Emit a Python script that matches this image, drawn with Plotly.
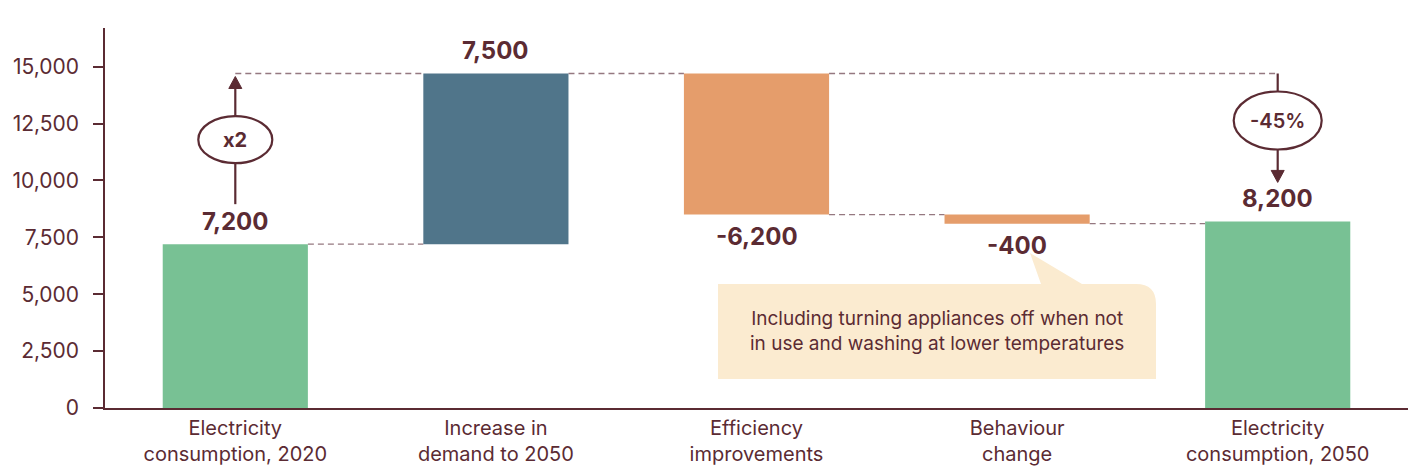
import plotly.graph_objects as go

# ---- data -------------------------------------------------------------
categories = [
    "Electricity<br>consumption, 2020",
    "Increase in<br>demand to 2050",
    "Efficiency<br>improvements",
    "Behaviour<br>change",
    "Electricity<br>consumption, 2050",
]
steps = [7200, 7500, -6200, -400, 8200]
measures = ["absolute", "relative", "relative", "relative", "absolute"]
bar_colors = ["#78c194", "#50758a", "#e59d6b", "#e59d6b", "#78c194"]
y_ticks = [0, 2500, 5000, 7500, 10000, 12500, 15000]
growth_label = "x2"
change_label = "-45%"
callout_text = "Including turning appliances off when not<br>in use and washing at lower temperatures"

# ---- styling ----------------------------------------------------------
FONT = "Inter"
INK = "#5b2b33"
DASH_COLOR = "#957880"
CALLOUT_FILL = "#fbebd0"
W, H = 1410, 470
M_L, M_R, M_T, M_B = 105, 2, 28, 62
PLOT_W = W - M_L - M_R
PLOT_H = H - M_T - M_B
Y_MAX = 16700
BAR_W = 0.557
HALF = BAR_W / 2

PX_PER_CAT = PLOT_W / len(categories)
PX_PER_UNIT = PLOT_H / Y_MAX


def ux(px):
    """pixel distance -> category units"""
    return px / PX_PER_CAT


def uy(px):
    """pixel distance -> value units"""
    return px / PX_PER_UNIT


def paper_x(px):
    return (px - M_L) / PLOT_W


def paper_y(py):
    return (M_T + PLOT_H - py) / PLOT_H


# ---- floating bar geometry from the steps ---------------------------
bases, ends = [], []
running = 0
for m, v in zip(measures, steps):
    if m == "absolute":
        bases.append(0)
        running = v
    else:
        bases.append(running)
        running += v
    ends.append(running)
peak = max(ends)

xs = list(range(len(categories)))

fig = go.Figure(
    go.Bar(
        x=xs,
        y=steps,
        base=bases,
        width=BAR_W,
        marker=dict(color=bar_colors, line=dict(width=0)),
        hoverinfo="skip",
    )
)

shapes = []
annotations = []

dash_line = dict(color=DASH_COLOR, width=1.3, dash="6px,4px")
solid = dict(color=INK, width=2.2)

# waterfall connectors between consecutive bars
for i in range(len(categories) - 1):
    shapes.append(dict(type="line", xref="x", yref="y",
                       x0=i + HALF, x1=i + 1 - HALF, y0=ends[i], y1=ends[i],
                       line=dash_line, layer="below"))
# peak level guide from the first arrow and out to the last bar
shapes.append(dict(type="line", xref="x", yref="y", x0=0, x1=1 - HALF,
                   y0=peak, y1=peak, line=dash_line, layer="below"))
shapes.append(dict(type="line", xref="x", yref="y", x0=2 + HALF, x1=4,
                   y0=peak, y1=peak, line=dash_line, layer="below"))

# value labels
for i, (v, b, e) in enumerate(zip(steps, bases, ends)):
    top = max(b, b + v)
    bottom = min(b, b + v)
    above = v > 0
    annotations.append(dict(
        x=i, y=top if above else bottom, xref="x", yref="y",
        text=f"<b>{v:,}</b>", showarrow=False,
        xanchor="center", yanchor="middle",
        yshift=23 if above else -22,
        font=dict(family=FONT, size=24, color=INK),
    ))


def arrow_head(x, tip, up=True, size_px=12, half_px=6.5):
    base = tip - uy(size_px) if up else tip + uy(size_px)
    return dict(
        type="path", xref="x", yref="y",
        path=f"M {x - ux(half_px)},{base} L {x},{tip} L {x + ux(half_px)},{base} Z",
        fillcolor=INK, line=dict(color=INK, width=1),
    )


def ellipse(x, yc, w_px, h_px):
    return dict(type="circle", xref="x", yref="y",
                x0=x - ux(w_px / 2), x1=x + ux(w_px / 2),
                y0=yc - uy(h_px / 2), y1=yc + uy(h_px / 2),
                line=dict(color=INK, width=2.2), fillcolor="white")


# growth marker above the 2020 bar
start = ends[0]
g_bottom = start + uy(40)
g_e_lo = start + uy(81)
g_e_hi = start + uy(128)
g_tip = peak - uy(3)
shapes.append(dict(type="line", xref="x", yref="y", x0=0, x1=0,
                   y0=g_bottom, y1=g_e_lo, line=solid))
shapes.append(dict(type="line", xref="x", yref="y", x0=0, x1=0,
                   y0=g_e_hi, y1=g_tip - uy(8), line=solid))
shapes.append(ellipse(0, (g_e_lo + g_e_hi) / 2, 74, 47))
shapes.append(arrow_head(0, g_tip, up=True))
annotations.append(dict(x=0, y=(g_e_lo + g_e_hi) / 2, xref="x", yref="y",
                        text=f"<b>{growth_label}</b>", showarrow=False,
                        xanchor="center", yanchor="middle",
                        font=dict(family=FONT, size=20, color=INK)))

# reduction marker above the 2050 bar
final = ends[-1]
last = len(categories) - 1
c_e_hi = peak - uy(18)
c_e_lo = peak - uy(76)
c_tip = final + uy(39)
shapes.append(dict(type="line", xref="x", yref="y", x0=last, x1=last,
                   y0=peak, y1=c_e_hi, line=solid))
shapes.append(dict(type="line", xref="x", yref="y", x0=last, x1=last,
                   y0=c_e_lo, y1=c_tip + uy(8), line=solid))
shapes.append(ellipse(last, (c_e_lo + c_e_hi) / 2, 88, 58))
shapes.append(arrow_head(last, c_tip, up=False))
annotations.append(dict(x=last, y=(c_e_lo + c_e_hi) / 2, xref="x", yref="y",
                        text=f"<span style='font-weight:600'>{change_label}</span>",
                        showarrow=False, xanchor="center", yanchor="middle",
                        font=dict(family=FONT, size=20, color=INK)))

# speech-bubble callout for behaviour change
bx0, bx1, by0, by1, r = 718, 1156, 284, 379, 20
tip_x, tip_y, p0, p1 = 1030, 253, 1041, 1082
pts = (
    f"M {paper_x(bx0)},{paper_y(by0)} "
    f"L {paper_x(p0)},{paper_y(by0)} "
    f"L {paper_x(tip_x)},{paper_y(tip_y)} "
    f"L {paper_x(p1)},{paper_y(by0)} "
    f"L {paper_x(bx1 - r)},{paper_y(by0)} "
    f"Q {paper_x(bx1)},{paper_y(by0)} {paper_x(bx1)},{paper_y(by0 + r)} "
    f"L {paper_x(bx1)},{paper_y(by1)} "
    f"L {paper_x(bx0)},{paper_y(by1)} Z"
)
shapes.append(dict(type="path", xref="paper", yref="paper", path=pts,
                   fillcolor=CALLOUT_FILL, line=dict(width=0), layer="below"))
annotations.append(dict(x=paper_x((bx0 + bx1) / 2), y=paper_y(331),
                        xref="paper", yref="paper", text=callout_text,
                        showarrow=False, align="center",
                        xanchor="center", yanchor="middle",
                        font=dict(family=FONT, size=19, color=INK)))

fig.update_layout(
    width=W, height=H,
    margin=dict(l=M_L, r=M_R, t=M_T, b=M_B, autoexpand=False),
    paper_bgcolor="white", plot_bgcolor="white",
    showlegend=False,
    shapes=shapes,
    annotations=annotations,
    font=dict(family=FONT, color=INK),
    xaxis=dict(
        range=[-0.5, len(categories) - 0.5],
        tickvals=xs, ticktext=categories,
        showgrid=False, zeroline=False, automargin=False,
        showline=True, linecolor=INK, linewidth=2,
        ticks="", ticklabelstandoff=1,
        tickfont=dict(family=FONT, size=20, color=INK),
    ),
    yaxis=dict(
        range=[0, Y_MAX],
        tickvals=y_ticks, tickformat=",d", automargin=False,
        showgrid=False, zeroline=False,
        showline=True, linecolor=INK, linewidth=1.5,
        ticks="outside", ticklen=10, tickcolor=INK, tickwidth=1.5,
        ticklabelstandoff=10,
        tickfont=dict(family=FONT, size=21, color=INK),
    ),
)

fig.write_html("out.html")
